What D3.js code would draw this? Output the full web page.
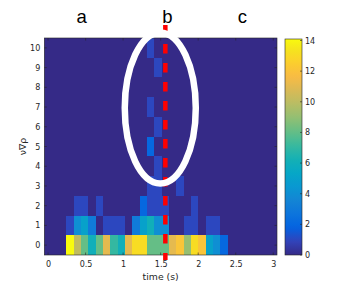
<!DOCTYPE html>
<html><head><meta charset="utf-8">
<script src="https://cdn.jsdelivr.net/npm/d3@7"></script>
<style>html,body{margin:0;padding:0;background:#fff;} svg{display:block}</style>
</head><body>
<svg id="c" width="358" height="286"></svg>
<script>
// ---- data ----
const times = [0.293,0.391,0.488,0.586,0.684,0.781,0.879,0.977,1.074,1.172,1.270,
               1.367,1.465,1.563,1.660,1.758,1.855,1.953,2.051,2.148,2.246,2.344];
const binWidth = 0.0977;
const levels = [0,1,2,3,4,5,6,7,8,9,10];
const row0  = [14,10,8,6,8,11,7,6,11,13,13,8,8,8,11,12,9,13,12,5,4,2];
const row1  = [1,4,5,3,0,1,1,1,0,3,5,6,4,4,0,0,1,1,0,1,1,0];
const row2  = [0,1,1,0,1,0,0,0,0,0,2,1,1,1,0,0,0,1,0,0,0,0];
const row3  = [0,0,0,0,0,0,0,0,0,0,0,1,1,0,0,1,0,0,0,0,0,0];
const row4  = [0,0,0,0,0,0,0,0,0,0,0,0,1,0,0,0,0,0,0,0,0,0];
const row5  = [0,0,0,0,0,0,0,0,0,0,0,2,0,0,0,0,0,0,0,0,0,0];
const row6  = [0,0,0,0,0,0,0,0,0,0,0,0,1,0,0,0,0,0,0,0,0,0];
const row7  = [0,0,0,0,0,0,0,0,0,0,0,1,0,0,0,0,0,0,0,0,0,0];
const row8  = [0,0,0,0,0,0,0,0,0,0,0,0,0,0,0,0,0,0,0,0,0,0];
const row9  = [0,0,0,0,0,0,0,0,0,0,0,0,1,0,0,0,0,0,0,0,0,0];
const row10 = [0,0,0,0,0,0,0,0,0,0,0,1,0,0,0,0,0,0,0,0,0,0];
const rows = [row0,row1,row2,row3,row4,row5,row6,row7,row8,row9,row10];
const xTicks = [0,0.5,1,1.5,2,2.5,3];
const xTickLabels = ["0","0.5","1","1.5","2","2.5","3"];
const cbTicks = [0,2,4,6,8,10,12,14];
const markTime = 1.5625;
const topLabels = ["a","b","c"];
const topLabelTimes = [0.448,1.589,2.588];

// parula colormap stops
const parula = [
 [0.2081,0.1663,0.5292],[0.1959,0.2645,0.7279],[0.0117,0.3875,0.8820],[0.0498,0.4586,0.8641],
 [0.0793,0.5200,0.8312],[0.0343,0.5966,0.8199],[0.0228,0.6535,0.7768],[0.0843,0.6928,0.7062],
 [0.2178,0.7250,0.6193],[0.3953,0.7459,0.5244],[0.5709,0.7485,0.4494],[0.7184,0.7411,0.3905],
 [0.8507,0.7299,0.3360],[0.9739,0.7314,0.2666],[0.9880,0.8066,0.1794],[0.9589,0.8949,0.1132],
 [0.9763,0.9831,0.0538]];
const parulaPos = [0,4,8,12,16,20,24,28,32,36,40,44,48,52,56,60,63].map(i=>i/63);
const cmin = 0, cmax = 14;

// ---- layout ----
const svg = d3.select("#c");
const L = 44.3, R = 277, T = 38, B = 255;
const x = d3.scaleLinear().domain([-0.05, 3.05]).range([L, R]);
const y = d3.scaleLinear().domain([-0.5, 10.5]).range([B, T]);
const color = d3.scaleLinear()
  .domain(parulaPos.map(p => cmin + p*(cmax-cmin)))
  .range(parula.map(c => d3.rgb(c[0]*255, c[1]*255, c[2]*255).toString()))
  .interpolate(d3.interpolateRgb).clamp(true);
const axisCol = "#262626";
const font = "DejaVu Sans, Liberation Sans, sans-serif";

// background (value 0)
svg.append("rect").attr("x", L).attr("y", T).attr("width", R-L).attr("height", B-T)
  .attr("fill", color(0));

// cells
const cells = [];
rows.forEach((r, ri) => r.forEach((v, ci) => cells.push({lev: levels[ri], t: times[ci], v})));
svg.append("g").selectAll("rect").data(cells).join("rect")
  .attr("x", d => x(d.t - binWidth/2))
  .attr("width", d => x(d.t + binWidth/2) - x(d.t - binWidth/2))
  .attr("y", d => y(d.lev + 0.5))
  .attr("height", d => y(d.lev - 0.5) - y(d.lev + 0.5))
  .attr("fill", d => color(d.v))
  .attr("shape-rendering", "crispEdges");

// axes (ticks inside)
const tickLen = 2.5;
const gx = svg.append("g").attr("transform", `translate(0,${B})`)
  .call(d3.axisBottom(x).tickValues(xTicks).tickFormat((d,i)=>xTickLabels[i]).tickSize(0).tickPadding(5));
const gy = svg.append("g").attr("transform", `translate(${L},0)`)
  .call(d3.axisLeft(y).tickValues(levels).tickFormat(d3.format("d")).tickSize(0).tickPadding(4));
[gx, gy].forEach(g => {
  g.select(".domain").remove();
  g.selectAll("text").attr("fill", axisCol).attr("font-size", 8).attr("font-family", font);
});
gx.selectAll("text").attr("dy", "0.9em");
// inner tick marks
const tk = svg.append("g").attr("stroke", axisCol).attr("stroke-width", 0.6);
xTicks.forEach(v => {
  tk.append("line").attr("x1", x(v)).attr("x2", x(v)).attr("y1", B).attr("y2", B - tickLen);
  tk.append("line").attr("x1", x(v)).attr("x2", x(v)).attr("y1", T).attr("y2", T + tickLen);
});
levels.forEach(v => {
  tk.append("line").attr("y1", y(v)).attr("y2", y(v)).attr("x1", L).attr("x2", L + tickLen);
  tk.append("line").attr("y1", y(v)).attr("y2", y(v)).attr("x1", R).attr("x2", R - tickLen);
});
svg.append("rect").attr("x", L).attr("y", T).attr("width", R-L).attr("height", B-T)
  .attr("fill", "none").attr("stroke", axisCol).attr("stroke-width", 0.6);

// axis labels
svg.append("text").attr("x", (L+R)/2).attr("y", 280).attr("text-anchor", "middle")
  .attr("font-family", font).attr("font-size", 9.3).attr("fill", axisCol).text("time (s)");
svg.append("text").attr("transform", `translate(26,${(T+B)/2}) rotate(-90)`)
  .attr("text-anchor", "middle").attr("font-family", font).attr("font-size", 9.3)
  .attr("fill", axisCol).text("ν∇ρ");

// red dashed marker line
svg.append("line").attr("x1", x(markTime)).attr("x2", x(markTime))
  .attr("y1", 25).attr("y2", 260)
  .attr("stroke", "#ff0000").attr("stroke-width", 4.5).attr("stroke-dasharray", "9.5,9.5");

// white ellipse
svg.append("ellipse").attr("cx", x(1.495)).attr("cy", y(6.95))
  .attr("rx", x(1.495+0.473) - x(1.495)).attr("ry", y(6.95) - y(6.95+3.82))
  .attr("fill", "none").attr("stroke", "#ffffff").attr("stroke-width", 6.5);

// top labels
topLabels.forEach((s, i) => {
  svg.append("text").attr("x", x(topLabelTimes[i])).attr("y", 22.5).attr("text-anchor", "middle")
    .attr("font-family", "Liberation Sans, Arial, sans-serif").attr("font-size", 18.5)
    .attr("fill", "#000").text(s);
});

// colorbar
const cbL = 285, cbR = 302, cbT = 39, cbB = 255;
const cy = d3.scaleLinear().domain([cmin, cmax]).range([cbB, cbT + 1.5]);
const grad = svg.append("defs").append("linearGradient").attr("id", "cbg")
  .attr("x1", 0).attr("y1", 1).attr("x2", 0).attr("y2", 0);
d3.range(0, 1.0001, 0.02).forEach(p => {
  grad.append("stop").attr("offset", p).attr("stop-color", color(cmin + p*(cmax-cmin)));
});
svg.append("rect").attr("x", cbL).attr("y", cbT).attr("width", cbR-cbL).attr("height", cbB-cbT)
  .attr("fill", "url(#cbg)").attr("stroke", axisCol).attr("stroke-width", 0.6);
const gc = svg.append("g").attr("transform", `translate(${cbR},0)`)
  .call(d3.axisRight(cy).tickValues(cbTicks).tickSize(0).tickPadding(3));
gc.select(".domain").remove();
gc.selectAll("text").attr("fill", axisCol).attr("font-size", 8).attr("font-family", font);
cbTicks.forEach(v => {
  svg.append("line").attr("x1", cbR).attr("x2", cbR - 2).attr("y1", cy(v)).attr("y2", cy(v))
    .attr("stroke", axisCol).attr("stroke-width", 0.6);
});
</script>
</body></html>
